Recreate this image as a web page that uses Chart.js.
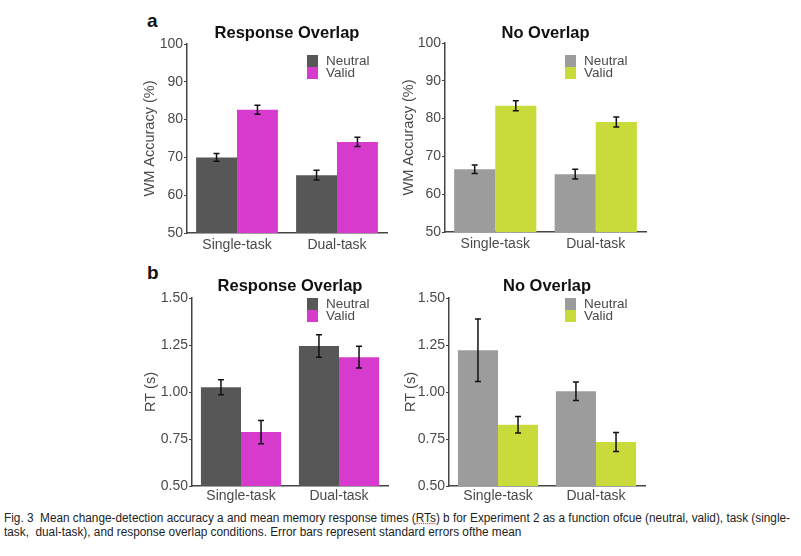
<!DOCTYPE html>
<html>
<head>
<meta charset="utf-8">
<script src="https://cdn.jsdelivr.net/npm/chart.js@4.4.1/dist/chart.umd.min.js"></script>
<style>
    body { margin: 0; background: #fff; width: 801px; height: 556px; position: relative; overflow: hidden; }
    .box { position: absolute; }
    .panel { position: absolute; font-family: "Liberation Sans", Arial, sans-serif; font-weight: bold; font-size: 19px; color: #111; }
    #caption { position: absolute; left: 4px; top: 511px; font-family: "Liberation Sans Narrow", "Arial Narrow", "Liberation Sans", sans-serif; font-size: 12.5px; line-height: 14px; color: #222; white-space: nowrap; transform-origin: 0 0; }
    .spell { text-decoration: underline dotted #d33; }
</style>
</head>
<body>
<div class="panel" style="left:147px; top:10px;">a</div>
<div class="panel" style="left:147px; top:262px;">b</div>

<div class="box" style="left:140px; top:0px; width:255px; height:258px;"><canvas id="acc-overlap"></canvas></div>
<div class="box" style="left:399px; top:0px; width:255px; height:258px;"><canvas id="acc-none"></canvas></div>
<div class="box" style="left:141px; top:258px; width:255px; height:250px;"><canvas id="rt-overlap"></canvas></div>
<div class="box" style="left:401px; top:258px; width:255px; height:250px;"><canvas id="rt-none"></canvas></div>

<div id="caption"><span id="cap-line1">Fig. 3&nbsp; Mean change-detection accuracy a and mean memory response times (<span class="spell">RTs</span>) b for Experiment 2 as a function ofcue (neutral, valid), task (single-</span><br>task,&nbsp; dual-task), and response overlap conditions. Error bars represent standard errors ofthe mean</div>

<script>
// categories
const tasks = ['Single-task', 'Dual-task'];
const cues = ['Neutral', 'Valid'];

// WM accuracy (%)
const accOverlapNeutral = [70.0, 65.3];
const accOverlapValid = [82.6, 74.1];
const accOverlapNeutralErr = [1.0, 1.3];
const accOverlapValidErr = [1.2, 1.2];

const accNoneNeutral = [66.6, 65.3];
const accNoneValid = [83.4, 79.1];
const accNoneNeutralErr = [1.1, 1.3];
const accNoneValidErr = [1.3, 1.3];

// RT (s)
const rtOverlapNeutral = [1.025, 1.245];
const rtOverlapValid = [0.787, 1.185];
const rtOverlapNeutralErr = [0.04, 0.06];
const rtOverlapValidErr = [0.062, 0.058];

const rtNoneNeutral = [1.222, 1.004];
const rtNoneValid = [0.826, 0.734];
const rtNoneNeutralErr = [0.166, 0.049];
const rtNoneValidErr = [0.044, 0.05];

// tick settings
const accTicks = { min: 50, max: 100, step: 10 };
const rtTicks = { min: 0.5, max: 1.5, step: 0.25 };

const FONT = '"Liberation Sans", Arial, sans-serif';
const TEXT = '#4a4a4a';
const AXIS = '#444';

// squeeze the caption to the printed width
const caption = document.getElementById('caption');
const line1 = document.getElementById('cap-line1').getBoundingClientRect().width;
caption.style.transform = 'scaleX(' + (786 / line1) + ')';

// error bars, title and inside legend
const extras = {
    id: 'extras',
    afterDatasetsDraw(chart) {
        const ctx = chart.ctx;
        const yScale = chart.scales.y;
        ctx.save();
        ctx.strokeStyle = '#111';
        ctx.lineWidth = 1.5;
        chart.data.datasets.forEach((ds, i) => {
            chart.getDatasetMeta(i).data.forEach((bar, j) => {
                const v = ds.data[j], e = ds.errors[j];
                const hi = yScale.getPixelForValue(v + e);
                const lo = yScale.getPixelForValue(v - e);
                ctx.beginPath();
                ctx.moveTo(bar.x, hi); ctx.lineTo(bar.x, lo);
                ctx.moveTo(bar.x - 3, hi); ctx.lineTo(bar.x + 3, hi);
                ctx.moveTo(bar.x - 3, lo); ctx.lineTo(bar.x + 3, lo);
                ctx.stroke();
            });
        });
        ctx.restore();
    },
    afterDraw(chart, args, opts) {
        const ctx = chart.ctx;
        const area = chart.chartArea;
        ctx.save();
        ctx.fillStyle = '#111';
        ctx.font = 'bold 16.5px ' + FONT;
        ctx.textAlign = 'center';
        ctx.textBaseline = 'middle';
        ctx.fillText(opts.title, (area.left + area.right) / 2, area.top - opts.titleGap);

        ctx.font = '13.5px ' + FONT;
        ctx.textAlign = 'left';
        const lx = area.right - opts.legendRight;
        let ly = area.top + opts.legendTop;
        chart.data.datasets.forEach(ds => {
            ctx.fillStyle = ds.backgroundColor;
            ctx.fillRect(lx, ly, 11, 12);
            ctx.fillStyle = TEXT;
            ctx.fillText(ds.label, lx + 19, ly + 6.5);
            ly += 12;
        });
        ctx.restore();
    }
};

function makeChart(id, cfg) {
    const ctx = document.getElementById(id).getContext('2d');
    return new Chart(ctx, {
        type: 'bar',
        data: {
            labels: tasks,
            datasets: [
                {
                    label: cues[0],
                    data: cfg.neutral,
                    errors: cfg.neutralErr,
                    backgroundColor: cfg.colors[0],
                    categoryPercentage: 0.818,
                    barPercentage: 1.0
                },
                {
                    label: cues[1],
                    data: cfg.valid,
                    errors: cfg.validErr,
                    backgroundColor: cfg.colors[1],
                    categoryPercentage: 0.818,
                    barPercentage: 1.0
                }
            ]
        },
        options: {
            responsive: true,
            maintainAspectRatio: false,
            animation: false,
            layout: { padding: { top: cfg.padTop, right: cfg.padRight, bottom: 0, left: 0 } },
            plugins: {
                legend: { display: false },
                tooltip: { enabled: false },
                extras: {
                    title: cfg.title,
                    titleGap: cfg.titleGap,
                    legendRight: cfg.legendRight,
                    legendTop: cfg.legendTop
                }
            },
            scales: {
                x: {
                    grid: { display: false, drawTicks: false },
                    border: { display: true, color: AXIS, width: 1.5 },
                    ticks: { color: TEXT, font: { family: FONT, size: 14 }, padding: cfg.xPad },
                    afterFit: scale => { scale.height = cfg.xHeight; }
                },
                y: {
                    min: cfg.ticks.min,
                    max: cfg.ticks.max,
                    grid: { drawOnChartArea: false, tickLength: 3, tickColor: AXIS, tickWidth: 1.2 },
                    border: { display: true, color: AXIS, width: 1.5 },
                    ticks: {
                        stepSize: cfg.ticks.step,
                        color: TEXT,
                        padding: 1,
                        font: { family: FONT, size: 14 },
                        callback: v => cfg.decimals ? v.toFixed(cfg.decimals) : v
                    },
                    title: {
                        display: true,
                        text: cfg.yTitle,
                        color: TEXT,
                        font: { family: FONT, size: 14.5 },
                        padding: { top: 1, bottom: 0 }
                    },
                    afterFit: scale => { scale.width = cfg.yWidth; }
                }
            }
        },
        plugins: [extras]
    });
}

const darkPair = ['#575757', '#d63bce'];
const lightPair = ['#9c9c9c', '#c8db3b'];

makeChart('acc-overlap', {
    neutral: accOverlapNeutral, valid: accOverlapValid,
    neutralErr: accOverlapNeutralErr, validErr: accOverlapValidErr,
    colors: darkPair, ticks: accTicks, decimals: 0,
    title: 'Response Overlap', yTitle: 'WM Accuracy (%)',
    padTop: 44, padRight: 8, xHeight: 25, yWidth: 47, xPad: 4,
    titleGap: 11, legendRight: 80, legendTop: 11
});
makeChart('acc-none', {
    neutral: accNoneNeutral, valid: accNoneValid,
    neutralErr: accNoneNeutralErr, validErr: accNoneValidErr,
    colors: lightPair, ticks: accTicks, decimals: 0,
    title: 'No Overlap', yTitle: 'WM Accuracy (%)',
    padTop: 43, padRight: 8, xHeight: 26, yWidth: 46, xPad: 4,
    titleGap: 10, legendRight: 81, legendTop: 12
});
makeChart('rt-overlap', {
    neutral: rtOverlapNeutral, valid: rtOverlapValid,
    neutralErr: rtOverlapNeutralErr, validErr: rtOverlapValidErr,
    colors: darkPair, ticks: rtTicks, decimals: 2,
    title: 'Response Overlap', yTitle: 'RT (s)',
    padTop: 40, padRight: 8, xHeight: 22, yWidth: 51, xPad: 2,
    titleGap: 12, legendRight: 81, legendTop: 0
});
makeChart('rt-none', {
    neutral: rtNoneNeutral, valid: rtNoneValid,
    neutralErr: rtNoneNeutralErr, validErr: rtNoneValidErr,
    colors: lightPair, ticks: rtTicks, decimals: 2,
    title: 'No Overlap', yTitle: 'RT (s)',
    padTop: 40, padRight: 11, xHeight: 22, yWidth: 48, xPad: 2,
    titleGap: 12, legendRight: 80, legendTop: 0
});
</script>
</body>
</html>
